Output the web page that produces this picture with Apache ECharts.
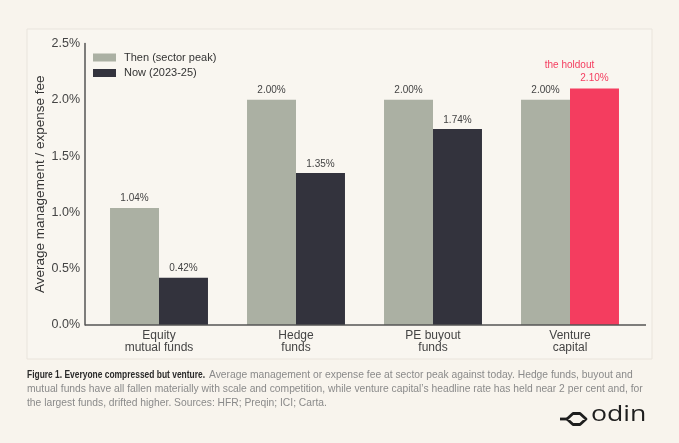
<!DOCTYPE html>
<html>
<head>
<meta charset="utf-8">
<script src="https://cdn.jsdelivr.net/npm/echarts@6/dist/echarts.min.js"></script>
<style>
  html, body { margin: 0; padding: 0; background: #f8f4ed; }
  #chart { width: 679px; height: 443px; }
</style>
</head>
<body>
<div id="chart"></div>
<script>
// data
const categories = ['Equity\nmutual funds', 'Hedge\nfunds', 'PE buyout\nfunds', 'Venture\ncapital']
const thenFees = [1.04, 2.00, 2.00, 2.00]
const nowFees = [0.42, 1.35, 1.74, 2.10]
const yTicks = [0, 0.5, 1.0, 1.5, 2.0, 2.5]

const font = '"Liberation Sans", Arial, sans-serif'
const grey = '#abb0a3'
const dark = '#33333d'
const pink = '#f43d5f'
const axisColor = '#555'

const chart = echarts.init(document.getElementById('chart'))

chart.setOption({
    backgroundColor: '#f8f4ed',
    textStyle: { fontFamily: font },
    legend: {
        orient: 'vertical',
        left: 88,
        top: 47,
        itemWidth: 23,
        itemHeight: 8,
        itemGap: 4.5,
        icon: 'rect',
        textStyle: { fontSize: 11, color: '#333', fontFamily: font, padding: [0, 0, 0, 3] },
        data: ['Then (sector peak)', 'Now (2023-25)']
    },
    grid: { left: 90.5, right: 40.5, top: 43.5, bottom: 118 },
    xAxis: {
        type: 'category',
        data: categories,
        axisLine: { show: false },
        axisTick: { show: false },
        axisLabel: { fontSize: 12, lineHeight: 12, color: '#444', margin: 4.5, fontFamily: font }
    },
    yAxis: {
        type: 'value',
        min: yTicks[0],
        max: yTicks[yTicks.length - 1],
        interval: 0.5,
        offset: 5.5,
        name: 'Average management / expense fee',
        nameLocation: 'middle',
        nameGap: 38,
        nameMoveOverlap: false,
        nameTextStyle: { fontSize: 13.5, color: '#333', fontFamily: font },
        axisLine: { show: true, lineStyle: { color: axisColor, width: 1.5 } },
        axisTick: { show: false },
        splitLine: { show: false },
        axisLabel: {
            fontSize: 12.5, color: '#444', margin: 5, fontFamily: font,
            formatter: v => v.toFixed(1) + '%'
        }
    },
    series: [
        {
            name: 'Then (sector peak)',
            type: 'bar',
            data: thenFees,
            barCategoryGap: '28.5%',
            barGap: '0%',
            itemStyle: { color: grey },
            label: {
                show: true, position: 'top', distance: 5,
                fontSize: 10, color: '#444', fontFamily: font,
                formatter: p => p.value.toFixed(2) + '%'
            }
        },
        {
            name: 'Now (2023-25)',
            type: 'bar',
            data: nowFees.map((v, i) => i === nowFees.length - 1
                ? {
                    value: v,
                    itemStyle: { color: pink },
                    label: {
                        formatter: '{h|the holdout}\n{v|' + v.toFixed(2) + '%}'
                    }
                }
                : v),
            itemStyle: { color: dark },
            label: {
                show: true, position: 'top', distance: 4,
                fontSize: 10, color: '#444', fontFamily: font,
                formatter: p => p.value.toFixed(2) + '%',
                rich: {
                    h: { fontSize: 10, color: pink, fontFamily: font, lineHeight: 15, padding: [0, 50, 0, 0] },
                    v: { fontSize: 10, color: pink, fontFamily: font, lineHeight: 12 }
                }
            }
        }
    ]
})

// x axis baseline runs a little past the outer bars, as in the original
const baseY = chart.convertToPixel({ yAxisIndex: 0 }, 0)

const captionLead = 'Figure 1. Everyone compressed but venture.'
const caption = [
    'Average management or expense fee at sector peak against today. Hedge funds, buyout and',
    'mutual funds have all fallen materially with scale and competition, while venture capital\u2019s headline rate has held near 2 per cent and, for',
    'the largest funds, drifted higher. Sources: HFR; Preqin; ICI; Carta.'
]
const captionFont = '10.3px ' + font
const leadFont = 'bold 10.3px ' + font

// the bold lead-in is set tighter in the original; squeeze it to the same width
const ctx = document.createElement('canvas').getContext('2d')
ctx.font = leadFont
const leadScale = 178 / ctx.measureText(captionLead).width

chart.setOption({
    graphic: [
        {
            type: 'rect', z: -1, silent: true,
            shape: { x: 27, y: 29, width: 625, height: 330 },
            style: { fill: '#f9f6f0', stroke: '#e9e4dc', lineWidth: 1 }
        },
        {
            type: 'line', silent: true, z: 10,
            shape: { x1: 85, y1: baseY, x2: 646, y2: baseY },
            style: { stroke: axisColor, lineWidth: 1.5 }
        },
        {
            type: 'text', x: 27, y: 370, scaleX: leadScale,
            style: { text: captionLead, font: leadFont, fill: '#2a2a2a' }
        },
        {
            type: 'text', x: 209, y: 370,
            style: { text: caption[0], font: captionFont, fill: '#8a8a8a' }
        },
        {
            type: 'text', x: 27, y: 384,
            style: { text: caption[1], font: captionFont, fill: '#8a8a8a' }
        },
        {
            type: 'text', x: 27, y: 398,
            style: { text: caption[2], font: captionFont, fill: '#8a8a8a' }
        },
        {
            type: 'polygon', silent: true,
            shape: { points: [[567, 419], [573, 413.5], [580, 413.5], [586, 419], [580, 424.5], [573, 424.5]] },
            style: { fill: 'none', stroke: '#1e1e1e', lineWidth: 2.8, lineJoin: 'round' }
        },
        {
            type: 'line', silent: true,
            shape: { x1: 560, y1: 419, x2: 567, y2: 419 },
            style: { stroke: '#1e1e1e', lineWidth: 2.8 }
        },
        {
            type: 'text', x: 591, y: 405, scaleX: 1.27,
            style: { text: 'odin', font: '500 21px "Open Sans", "Noto Sans", sans-serif', fill: '#1e1e1e' }
        }
    ]
})
</script>
</body>
</html>
